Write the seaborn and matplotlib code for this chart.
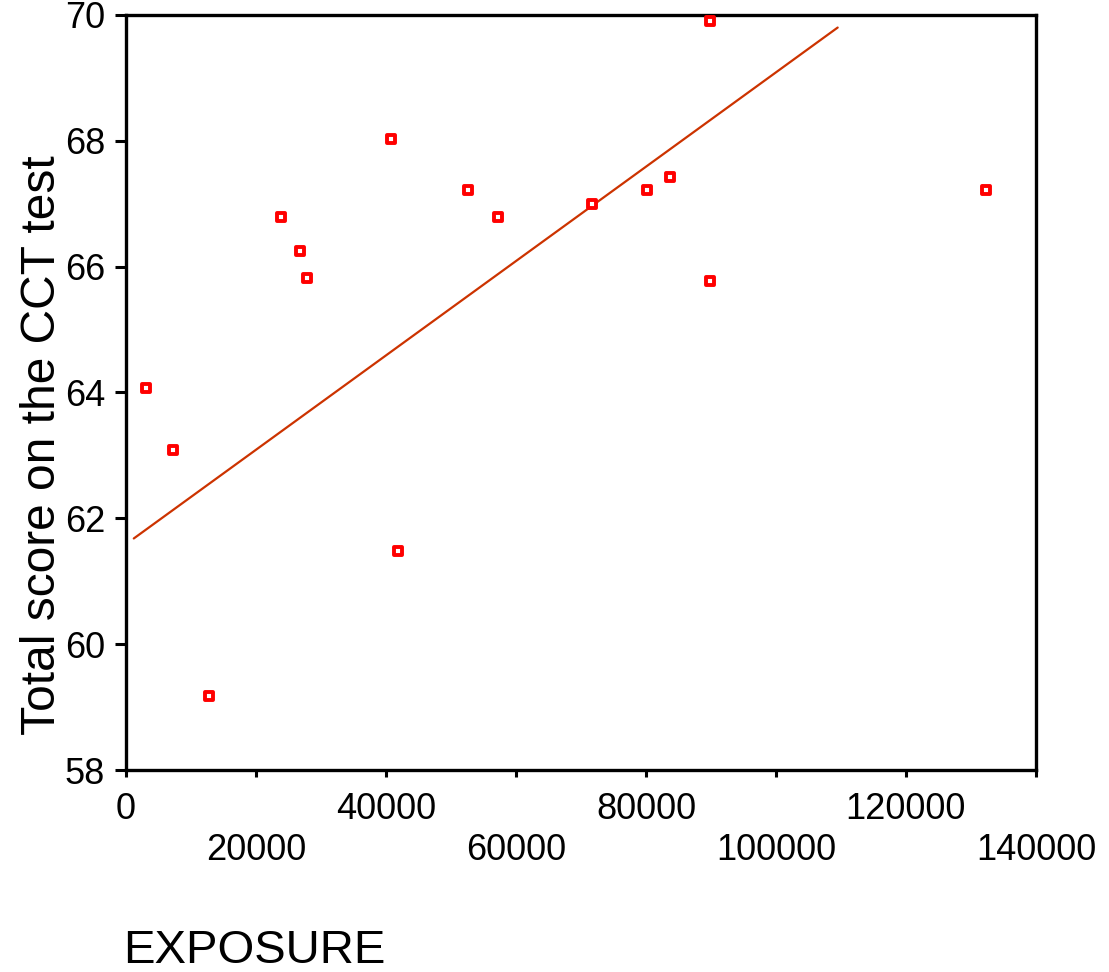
import numpy as np
import pandas as pd
import matplotlib
matplotlib.use('Agg')
import matplotlib.pyplot as plt
import seaborn as sns

# data
exposure = [3100, 7200, 12800, 23800, 26800, 27800, 40800, 41800,
            52600, 57200, 71700, 80200, 83700, 89800, 89800, 132300]
cct_score = [64.07, 63.09, 59.18, 66.79, 66.25, 65.82, 68.03, 61.48,
             67.22, 66.79, 67.00, 67.22, 67.43, 69.90, 65.77, 67.22]
# fitted line endpoints
fit_x = [1200, 109500]
fit_y = [61.68, 69.80]

x_ticks = [0, 20000, 40000, 60000, 80000, 100000, 120000, 140000]
y_ticks = [58, 60, 62, 64, 66, 68, 70]

df = pd.DataFrame({'EXPOSURE': exposure, 'CCT': cct_score})
fit = pd.DataFrame({'x': fit_x, 'y': fit_y})

sns.set_style("ticks")
plt.rcParams['font.family'] = ['Liberation Sans', 'DejaVu Sans']
plt.rcParams['text.color'] = 'black'
plt.rcParams['axes.labelcolor'] = 'black'
plt.rcParams['xtick.color'] = 'black'
plt.rcParams['ytick.color'] = 'black'
plt.rcParams['axes.edgecolor'] = 'black'

fig = plt.figure(figsize=(11.09, 9.72), dpi=100)
ax = fig.add_axes([0.1136, 0.2078, 0.8205, 0.7768])

sns.lineplot(data=fit, x='x', y='y', ax=ax, color='#CC3300', linewidth=1.6)
sns.scatterplot(data=df, x='EXPOSURE', y='CCT', ax=ax, marker='s', s=30,
                facecolor='white', edgecolor='#FF0000', linewidth=2.8, zorder=3)

ax.set_xlim(0, 140000)
ax.set_ylim(58, 70)
ax.set_xticks(x_ticks)
ax.set_xticklabels([str(t) if i % 2 == 0 else '\n' + str(t) for i, t in enumerate(x_ticks)])
ax.set_yticks(y_ticks)
ax.tick_params(axis='x', width=2.2, length=5, labelsize=26, pad=11)
ax.tick_params(axis='y', width=2.2, length=8, labelsize=26, pad=7)
for sp in ax.spines.values():
    sp.set_linewidth(2.4)

ax.set_ylabel('Total score on the CCT test', fontsize=34.5)
ax.yaxis.set_label_coords(-0.067, 0.43)
ax.set_xlabel('EXPOSURE', fontsize=34, ha='left')
ax.xaxis.set_label_coords(-0.003, -0.21)

plt.savefig('out.png', dpi=100)
